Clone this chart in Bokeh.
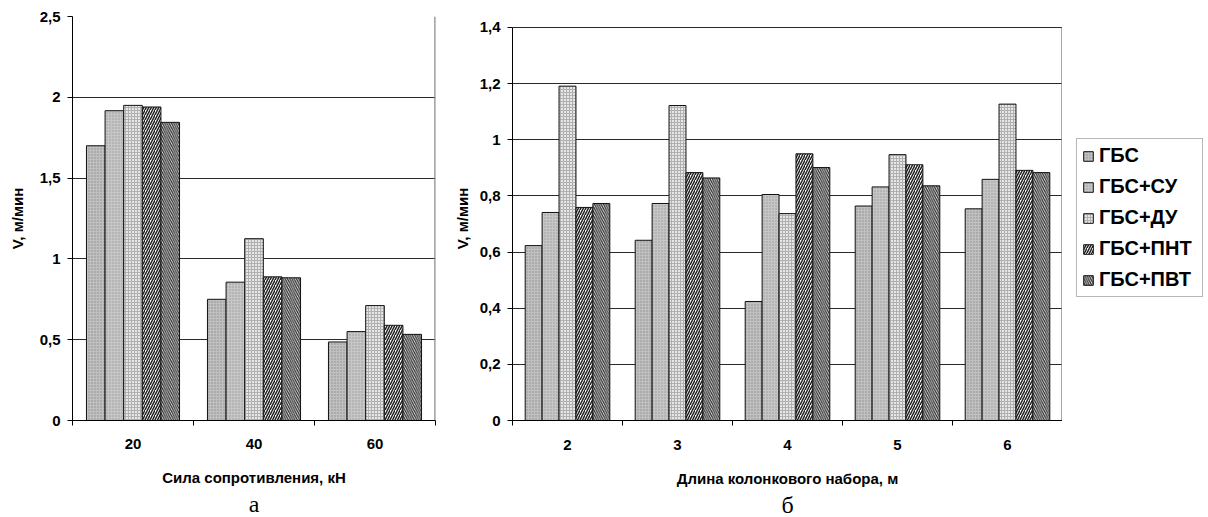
import numpy as np
from bokeh.plotting import figure
from bokeh.models import (Range1d, FixedTicker, CustomJSTickFormatter, Legend,
                          LegendItem, Title, ColumnDataSource)
from bokeh.layouts import row
from bokeh.embed import file_html
from bokeh.resources import INLINE

# ---------------- data ----------------
series = ["ГБС", "ГБС+СУ", "ГБС+ДУ", "ГБС+ПНТ", "ГБС+ПВТ"]

force_cats = ["20", "40", "60"]
force_gbs = [1.70, 0.75, 0.486]
force_su = [1.917, 0.856, 0.55]
force_du = [1.95, 1.125, 0.711]
force_pnt = [1.94, 0.889, 0.589]
force_pvt = [1.845, 0.883, 0.533]

length_cats = ["2", "3", "4", "5", "6"]
length_gbs = [0.623, 0.642, 0.424, 0.764, 0.754]
length_su = [0.741, 0.773, 0.805, 0.832, 0.859]
length_du = [1.191, 1.122, 0.737, 0.947, 1.127]
length_pnt = [0.759, 0.883, 0.950, 0.911, 0.891]
length_pvt = [0.773, 0.864, 0.901, 0.836, 0.883]

force_ticks = [0, 0.5, 1, 1.5, 2, 2.5]
length_ticks = [0, 0.2, 0.4, 0.6, 0.8, 1.0, 1.2, 1.4]

# ---------------- styles ----------------
FONT = "Liberation Sans"
styles = [
    dict(fill_color="#c0c0c0", hatch_pattern=".", hatch_color="#8c8c8c", hatch_scale=3),
    dict(fill_color="#c6c6c6", hatch_pattern=".", hatch_color="#989898", hatch_scale=3),
    dict(fill_color="#e6e6e6", hatch_pattern="+", hatch_color="#b0b0b0", hatch_scale=3),
    dict(fill_color="#ffffff", hatch_pattern="/", hatch_color="#222222", hatch_scale=5, hatch_weight=1.5),
    dict(fill_color="#f0f0f0", hatch_pattern="\\", hatch_color="#333333", hatch_scale=4.5, hatch_weight=1.3),
]

fmt_num = CustomJSTickFormatter(code="return String(Math.round(tick*10)/10).replace('.', ',');")

# plots in a row share frame top/bottom: frame spans y=16..421
FIG_H = 517
FRAME_TOP = 16
FRAME_BOTTOM = 421


def make_fig(cats, values, yticks, xlabel, sub, width, b_left, b_right,
             chart_top_px, ylab_standoff, tick_standoff):
    n = len(cats)
    ppu = (FRAME_BOTTOM - chart_top_px) / (yticks[-1] - yticks[0])
    y1 = yticks[-1] + (chart_top_px - FRAME_TOP) / ppu
    p = figure(output_backend="svg", toolbar_location=None,
               width=width, height=FIG_H,
               x_range=Range1d(0.5, n + 0.5), y_range=Range1d(yticks[0], y1),
               min_border_left=b_left, min_border_top=FRAME_TOP, min_border_right=b_right,
               min_border_bottom=FIG_H - FRAME_BOTTOM, background_fill_color="white",
               border_fill_color="white")
    p.outline_line_color = None
    w = 1 / 6.5
    centers = np.arange(1, n + 1)
    for k, (vals, st) in enumerate(zip(values, styles)):
        src = ColumnDataSource(dict(x=centers + (k - 2) * w, top=vals))
        p.vbar(x="x", top="top", width=w, source=src, line_color="#111111",
               line_width=1, **st)

    # grey right border of the plot area
    p.segment(x0=[n + 0.5], y0=[yticks[0]], x1=[n + 0.5], y1=[yticks[-1]],
              line_color="#8a8a8a", line_width=2.5)

    p.xgrid.visible = False
    p.ygrid.ticker = FixedTicker(ticks=yticks[1:])
    p.ygrid.grid_line_color = "#2a2a2a"
    p.ygrid.grid_line_width = 1

    ya = p.yaxis[0]
    ya.ticker = FixedTicker(ticks=yticks)
    ya.formatter = fmt_num
    ya.bounds = (yticks[0], yticks[-1])
    ya.axis_line_color = "black"
    ya.major_tick_out = 5
    ya.major_tick_in = 0
    ya.minor_tick_out = 0
    ya.minor_tick_in = 0
    ya.major_label_standoff = 7
    ya.major_label_text_font = FONT
    ya.major_label_text_font_style = "bold"
    ya.major_label_text_font_size = "15px"
    ya.major_label_text_color = "black"
    ya.axis_label = "V, м/мин"
    ya.axis_label_text_font = FONT
    ya.axis_label_text_font_style = "bold"
    ya.axis_label_text_font_size = "15px"
    ya.axis_label_text_color = "black"
    ya.axis_label_standoff = ylab_standoff

    xa = p.xaxis[0]
    xa.ticker = FixedTicker(ticks=list(range(1, n + 1)),
                            minor_ticks=[i + 0.5 for i in range(0, n + 1)])
    xa.formatter = CustomJSTickFormatter(args=dict(labels=cats),
                                         code="return labels[Math.round(tick)-1];")
    xa.axis_line_color = "black"
    xa.major_tick_out = 0
    xa.major_tick_in = 0
    xa.minor_tick_out = 5
    xa.minor_tick_in = 0
    xa.major_label_standoff = tick_standoff
    xa.major_label_text_font = FONT
    xa.major_label_text_font_style = "bold"
    xa.major_label_text_font_size = "15px"
    xa.major_label_text_color = "black"
    xa.axis_label = xlabel
    xa.axis_label_text_font = FONT
    xa.axis_label_text_font_style = "bold"
    xa.axis_label_text_font_size = "15px"
    xa.axis_label_text_color = "black"
    xa.axis_label_standoff = 17

    t = Title(text=sub, align="center", text_font="Liberation Serif",
              text_font_size="24px", text_font_style="normal", text_color="black",
              standoff=0, offset=0)
    p.add_layout(t, "below")
    return p


# left chart: plot area x 72..435
p1 = make_fig(force_cats,
              [force_gbs, force_su, force_du, force_pnt, force_pvt],
              force_ticks, "Сила сопротивления, кН", "а",
              450, 72, 15, 16, 11, 13)
# right chart: plot area x 508..1062, top gridline at y=27
p2 = make_fig(length_cats,
              [length_gbs, length_su, length_du, length_pnt, length_pvt],
              length_ticks, "Длина колонкового набора, м", "б",
              612, 58, 0, 27, 6, 14)

# legend panel (x 1062..1206); its renderers are hidden copies of the right chart's series
p3 = figure(output_backend="svg", toolbar_location=None, width=144, height=FIG_H,
            x_axis_type=None, y_axis_type=None, x_range=Range1d(0, 1), y_range=Range1d(0, 1),
            min_border_left=0, min_border_right=0, min_border_top=FRAME_TOP,
            min_border_bottom=FIG_H - FRAME_BOTTOM, background_fill_color="white",
            border_fill_color="white")
p3.outline_line_color = None
p3.grid.visible = False
leg_rends = []
for vals, st in zip([length_gbs, length_su, length_du, length_pnt, length_pvt], styles):
    r = p3.vbar(x=list(range(len(vals))), top=vals, width=0.1, line_color="#111111",
                line_width=1, visible=False, **st)
    leg_rends.append(r)
items = [LegendItem(label=s, renderers=[r]) for s, r in zip(series, leg_rends)]
lg = Legend(items=items, location=(14, FRAME_BOTTOM - 298), orientation="vertical")
lg.label_text_font = FONT
lg.label_text_font_style = "bold"
lg.label_text_font_size = "20px"
lg.label_text_color = "black"
lg.glyph_width = 12
lg.glyph_height = 12
lg.label_height = 20
lg.label_width = 98
lg.label_standoff = 5
lg.spacing = 8
lg.padding = 5
lg.margin = 0
lg.inactive_fill_alpha = 0
lg.border_line_color = "#707070"
lg.border_line_width = 1.5
lg.background_fill_color = "white"
lg.background_fill_alpha = 1
p3.add_layout(lg)

layout = row(p1, p2, p3)
open("out.html", "w").write(file_html(layout, INLINE))
